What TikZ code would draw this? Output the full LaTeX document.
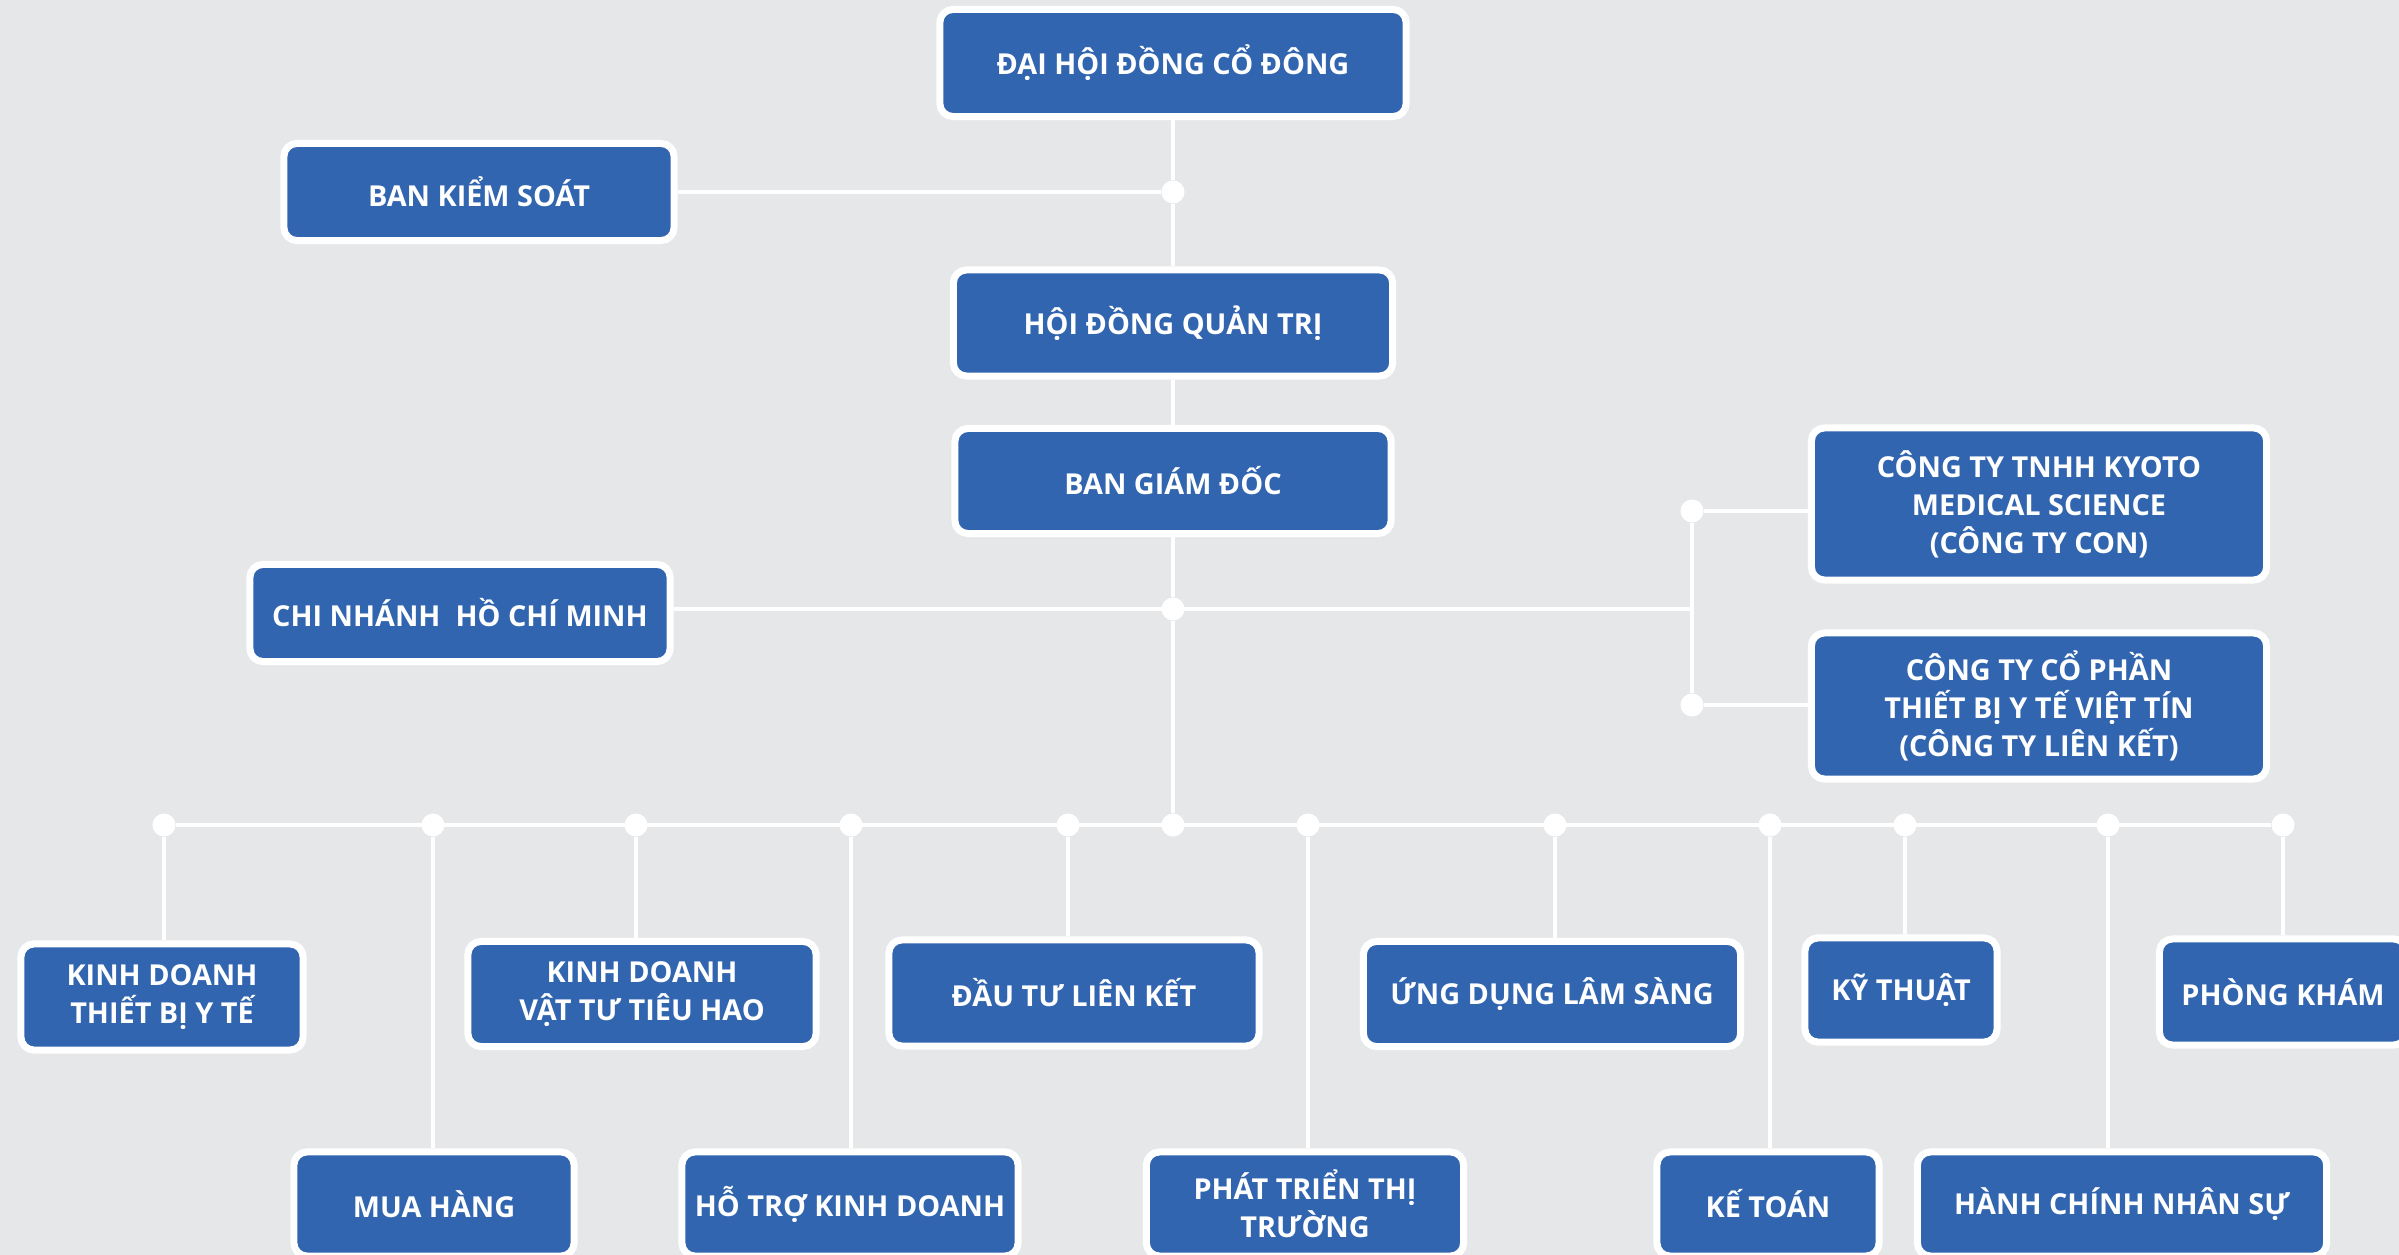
\documentclass[tikz,border=0pt]{standalone}
\usepackage{fontspec}
\setmainfont{Open Sans}
\definecolor{boxblue}{RGB}{49,101,175}
\definecolor{paper}{RGB}{230,231,233}

\begin{document}
\begin{tikzpicture}[x=0.01cm, y=-0.01cm,
    unit/.style={draw=white, line width=0.07cm, fill=boxblue, rounded corners=0.13cm,
      text=white, align=center, inner sep=0pt, font=\fontsize{8.2}{10.8}\selectfont\bfseries},
    dot/.style={circle, fill=white, inner sep=0pt, minimum size=0.23cm},
    link/.style={draw=white, line width=0.04cm}]

  \fill[paper] (0,0) rectangle (2399,1255);
  \useasboundingbox (0,0) rectangle (2399,1255);

  % Board
  \node[unit, minimum width=4.66cm, minimum height=1.07cm] (dh) at (1173,63) {ĐẠI HỘI ĐỒNG CỔ ĐÔNG};
  \node[unit, minimum width=3.90cm, minimum height=0.97cm] (bks) at (479,192) {BAN KIỂM SOÁT};
  \node[unit, minimum width=4.39cm, minimum height=1.06cm] (hd) at (1173,323) {HỘI ĐỒNG QUẢN TRỊ};
  \node[unit, minimum width=4.36cm, minimum height=1.05cm] (bgd) at (1173,481) {BAN GIÁM ĐỐC};
  \node[unit, minimum width=4.20cm, minimum height=0.97cm] (cn) at (460,613) {CHI NHÁNH\ \ HỒ CHÍ MINH};

  % Companies
  \node[unit, minimum width=4.55cm, minimum height=1.52cm] (kyo) at (2039,504) {CÔNG TY TNHH KYOTO\\MEDICAL SCIENCE\\(CÔNG TY CON)};
  \node[unit, minimum width=4.55cm, minimum height=1.46cm] (vt) at (2039,706) {CÔNG TY CỔ PHẦN\\THIẾT BỊ Y TẾ VIỆT TÍN\\(CÔNG TY LIÊN KẾT)};

  % Departments, upper row
  \node[unit, minimum width=2.82cm, minimum height=1.06cm] (u1) at (162,997) {KINH DOANH\\THIẾT BỊ Y TẾ};
  \node[unit, minimum width=3.48cm, minimum height=1.05cm] (u2) at (642,994) {KINH DOANH\\VẬT TƯ TIÊU HAO};
  \node[unit, minimum width=3.70cm, minimum height=1.06cm] (u3) at (1074,993) {ĐẦU TƯ LIÊN KẾT};
  \node[unit, minimum width=3.77cm, minimum height=1.05cm] (u4) at (1552,994) {ỨNG DỤNG LÂM SÀNG};
  \node[unit, minimum width=1.92cm, minimum height=1.04cm] (u5) at (1901,990) {KỸ THUẬT};
  \node[unit, minimum width=2.47cm, minimum height=1.06cm] (u6) at (2283,992) {PHÒNG KHÁM};

  % Departments, lower row
  \node[unit, minimum width=2.80cm, minimum height=1.04cm] (l1) at (434,1204) {MUA HÀNG};
  \node[unit, minimum width=3.36cm, minimum height=1.04cm] (l2) at (850,1204) {HỖ TRỢ KINH DOANH};
  \node[unit, minimum width=3.17cm, minimum height=1.04cm] (l3) at (1305,1204) {PHÁT TRIỂN THỊ\\TRƯỜNG};
  \node[unit, minimum width=2.22cm, minimum height=1.04cm] (l4) at (1768,1204) {KẾ TOÁN};
  \node[unit, minimum width=4.09cm, minimum height=1.04cm] (l5) at (2122,1204) {HÀNH CHÍNH NHÂN SỰ};

  % Joints
  \node[dot] (j1) at (1173,192) {};
  \node[dot] (j2) at (1173,609) {};
  \node[dot] (jk) at (1692,511) {};
  \node[dot] (jv) at (1692,705) {};
  \coordinate (jm) at (1692,609);
  \foreach \i/\x in {1/164, 2/433, 3/636, 4/851, 5/1068, 6/1173, 7/1308, 8/1555, 9/1770, 10/1905, 11/2108, 12/2283}
    \node[dot] (d\i) at (\x,825) {};

  % Lines
  \draw[link] (dh) -- (j1) -- (hd);
  \draw[link] (bks) -- (j1);
  \draw[link] (hd) -- (bgd);
  \draw[link] (bgd) -- (j2) -- (d6);
  \draw[link] (cn.east |- j2) -- (jm);
  \draw[link] (jk) -- (jv);
  \draw[link] (jk) -- (jk -| kyo.west);
  \draw[link] (jv) -- (jv -| vt.west);
  \draw[link] (d1) -- (d12);
  \foreach \d/\b in {d1/u1, d2/l1, d3/u2, d4/l2, d5/u3, d7/l3, d8/u4, d9/l4, d10/u5, d11/l5, d12/u6}
    \draw[link] (\d) -- (\d |- \b.north);

\end{tikzpicture}
\end{document}
